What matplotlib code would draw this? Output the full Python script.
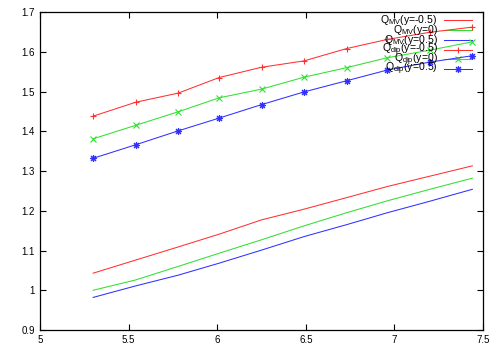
import matplotlib
matplotlib.use('Agg')
import matplotlib.pyplot as plt
from matplotlib.ticker import FormatStrFormatter, MultipleLocator

plt.rcParams['font.family'] = ['Liberation Sans', 'DejaVu Sans']
plt.rcParams['mathtext.fontset'] = 'custom'
plt.rcParams['mathtext.rm'] = 'Liberation Sans'

x = [5.30, 5.54, 5.78, 6.01, 6.25, 6.49, 6.73, 6.96, 7.20, 7.44]

# Q_MV curves (lines only)
mv_m05 = [1.043, 1.076, 1.109, 1.141, 1.177, 1.204, 1.233, 1.261, 1.287, 1.313]
mv_0 = [1.000, 1.026, 1.060, 1.093, 1.127, 1.162, 1.195, 1.225, 1.254, 1.282]
mv_p05 = [0.982, 1.011, 1.038, 1.068, 1.101, 1.135, 1.165, 1.195, 1.224, 1.254]

# Q_dip curves (lines + points)
dip_m05 = [1.438, 1.473, 1.496, 1.535, 1.561, 1.577, 1.608, 1.631, 1.649, 1.662]
dip_0 = [1.381, 1.415, 1.449, 1.484, 1.506, 1.536, 1.560, 1.585, 1.604, 1.625]
dip_p05 = [1.332, 1.366, 1.401, 1.433, 1.467, 1.499, 1.527, 1.554, 1.574, 1.590]

labels = [r'Q$_{\rm MV}$(y=-0.5)', r'Q$_{\rm MV}$(y=0)', r'Q$_{\rm MV}$(y=0.5)',
          r'Q$_{\rm dip}$(y=-0.5)', r'Q$_{\rm dip}$(y=0)', r'Q$_{\rm dip}$(y=0.5)']

colors = ['#ff3030', '#30e030', '#3030ff']

fig = plt.figure(figsize=(5, 3.5), dpi=100)
ax = fig.add_axes([0.08, 0.0571, 0.886, 0.9086])

series = [(mv_m05, colors[0], None), (mv_0, colors[1], None), (mv_p05, colors[2], None),
          (dip_m05, colors[0], '+'), (dip_0, colors[1], 'x'), (dip_p05, colors[2], (8, 2, 0))]

for i, (ys, c, m) in enumerate(series):
    ax.plot(x, ys, color=c, lw=0.75, marker=m, ms=5, mew=0.8)
    # gnuplot style key: text right aligned, sample to the right
    yk = 0.975 - i * 0.031
    ax.text(0.898, yk, labels[i], transform=ax.transAxes, ha='right', va='center',
            fontsize=7.6)
    ax.plot([0.912, 0.975], [yk, yk], transform=ax.transAxes, color=c, lw=0.75)
    if m is not None:
        ax.plot([0.944], [yk], transform=ax.transAxes, color=c, marker=m, ms=5, mew=0.8)

ax.set_xlim(5, 7.5)
ax.set_ylim(0.9, 1.7)
ax.xaxis.set_major_locator(MultipleLocator(0.5))
ax.yaxis.set_major_locator(MultipleLocator(0.1))
ax.xaxis.set_major_formatter(FormatStrFormatter('%g'))
ax.yaxis.set_major_formatter(FormatStrFormatter('%g'))
ax.tick_params(direction='in', top=True, right=True, length=4, width=0.8, labelsize=7)
for s in ax.spines.values():
    s.set_linewidth(0.9)

fig.savefig('out.png', dpi=100)
